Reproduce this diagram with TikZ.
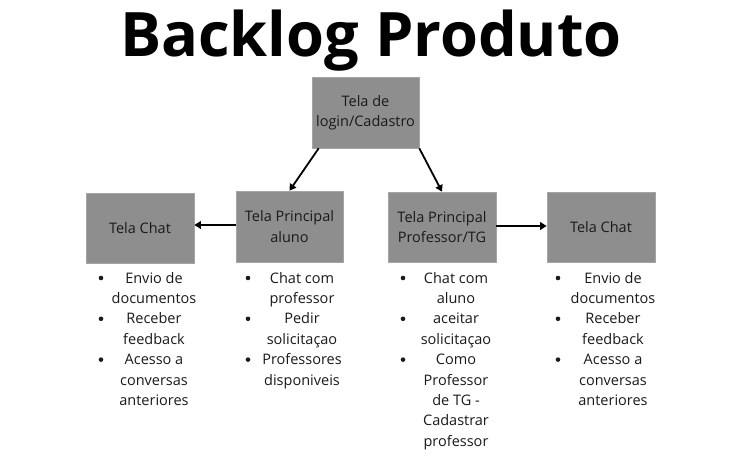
\documentclass[tikz,border=0pt]{standalone}
\usepackage{fontspec}
\setmainfont{Open Sans}
\usetikzlibrary{arrows.meta}
\definecolor{boxgray}{HTML}{8E8E8E}
\definecolor{txt}{HTML}{1A1A1A}
\begin{document}
\begin{tikzpicture}[x=1pt,y=-1pt,
  screen/.style={draw=boxgray!80!white, line width=0.6pt, fill=boxgray, text=txt, align=center,
    minimum width=107pt, minimum height=70pt, inner sep=0pt,
    font=\fontsize{14.5}{20.5}\selectfont},
  listtext/.style={anchor=base, inner sep=0pt, text=txt, font=\fontsize{14.5}{17}\selectfont},
  conn/.style={line width=1.8pt, -{Triangle[length=6.5pt,width=7.5pt]}}]
\useasboundingbox (0,0) rectangle (736,468);
\fill[white] (0,0) rectangle (736,468);

\node[anchor=base, inner sep=0pt, font=\fontsize{61.3}{70}\selectfont\bfseries] (title) at (371,57) {Backlog Produto};

\node[screen, minimum width=107pt, minimum height=71pt] (login) at (365.5,112.5) {Tela de\\login/Cadastro};
\node[screen, minimum width=108pt] (chatL) at (140,228) {Tela Chat};
\node[screen, minimum height=71pt] (aluno) at (289.5,226.5) {Tela Principal\\aluno};
\node[screen, minimum width=108pt] (prof) at (442,227) {Tela Principal\\Professor/TG};
\node[screen, minimum width=108pt] (chatR) at (601,227) {Tela Chat};

\coordinate (aw) at ([yshift=1.5pt]aluno.west);
\coordinate (pe) at ([yshift=1pt]prof.east);
\draw[conn] ([xshift=7pt]login.south west) -- (aluno.north);
\draw[conn] (login.south east) -- (prof.north);
\draw[conn] (aw) -- (chatL.east |- aw);
\draw[conn] (pe) -- (chatR.west |- pe);

% column 1
\foreach \t [count=\i] in {Envio de,documentos,Receber,feedback,Acesso a,conversas,anteriores}
  \node[listtext] (a\i) at (154,{283+20.4*(\i-1)}) {\t};
\foreach \i in {1,3,5} \fill[txt] (101,{278+20.4*(\i-1)}) circle[radius=2.3pt];
% column 2
\foreach \t [count=\i] in {Chat com,professor,Pedir,solicitaçao,Professores,disponiveis}
  \node[listtext] (b\i) at (302,{283+20.4*(\i-1)}) {\t};
\foreach \i in {1,3,5} \fill[txt] (248,{278+20.4*(\i-1)}) circle[radius=2.3pt];
% column 3
\foreach \t [count=\i] in {Chat com,aluno,aceitar,solicitaçao,Como,Professor,de TG -,Cadastrar,professor}
  \node[listtext] (c\i) at (456,{283+20.4*(\i-1)}) {\t};
\foreach \i in {1,3,5} \fill[txt] (403,{278+20.4*(\i-1)}) circle[radius=2.3pt];
% column 4
\foreach \t [count=\i] in {Envio de,documentos,Receber,feedback,Acesso a,conversas,anteriores}
  \node[listtext] (d\i) at (613,{283+20.4*(\i-1)}) {\t};
\foreach \i in {1,3,5} \fill[txt] (558,{278+20.4*(\i-1)}) circle[radius=2.3pt];
\end{tikzpicture}
\end{document}
